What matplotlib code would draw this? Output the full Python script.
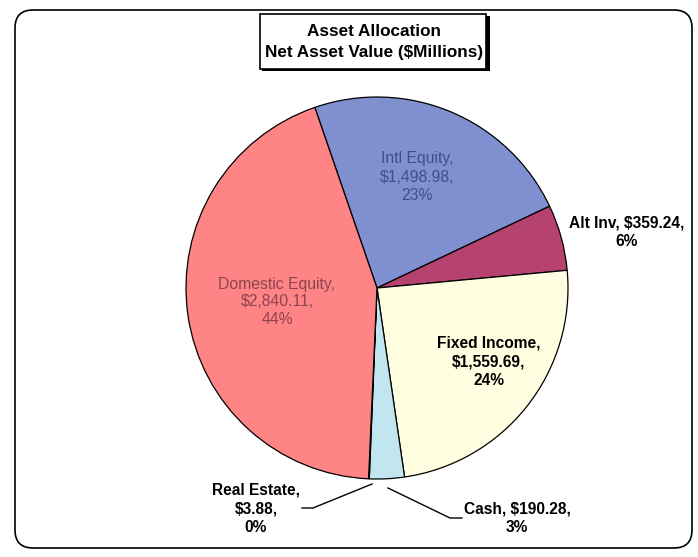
import matplotlib
matplotlib.use("Agg")
import matplotlib.pyplot as plt
from matplotlib.patches import FancyBboxPatch, Rectangle

plt.rcParams['font.family'] = ['Liberation Sans', 'DejaVu Sans']

# Net asset value by asset class ($ millions), in drawing order (clockwise)
labels = ['Intl Equity', 'Alt Inv', 'Fixed Income', 'Cash', 'Real Estate', 'Domestic Equity']
values = [1498.98, 359.24, 1559.69, 190.28, 3.88, 2840.11]
colors = ['#7f8fcf', '#b6426f', '#fffee0', '#c2e6f0', '#ffffff', '#ff8486']

W, H = 698, 557
fig = plt.figure(figsize=(W / 100, H / 100), dpi=100)
ax = fig.add_axes([0, 0, 1, 1])

def Y(y):
    # pixel rows counted from the top
    return H - y

# outer rounded frame
frame = FancyBboxPatch((15, Y(548)), 677, 538, boxstyle='round,pad=0,rounding_size=18',
                       fc='white', ec='black', lw=1.2, zorder=0)
ax.add_patch(frame)

center = (377, Y(288))
radius = 191
wedges, _ = ax.pie(values, colors=colors, startangle=109, counterclock=False,
                   center=center, radius=radius, frame=True,
                   wedgeprops=dict(edgecolor='black', linewidth=0.9))
ax.set_xlim(0, W)
ax.set_ylim(0, H)
ax.set_aspect('auto')
ax.axis('off')

total = sum(values)
pct = [round(v / total * 100) for v in values]

def lab(i):
    return f"{labels[i]},\n${values[i]:,.2f},\n{pct[i]}%"

# labels sitting inside the big wedges
ax.text(417, Y(177), lab(0), ha='center', va='center', fontsize=11.3,
        color='#2c3468', alpha=0.7, linespacing=1.3)
ax.text(277, Y(302), lab(5), ha='center', va='center', fontsize=11.3,
        color='#5a2a38', alpha=0.7, linespacing=1.25)
ax.text(489, Y(362), lab(2), ha='center', va='center', fontsize=11.2,
        fontweight='bold', linespacing=1.3)

# outside labels
ax.text(627, Y(232), f"{labels[1]}, ${values[1]:,.2f},\n{pct[1]}%", ha='center',
        va='center', fontsize=11.2, fontweight='bold', linespacing=1.3)
ax.text(256, Y(509), lab(4), ha='center', va='center', fontsize=11.2,
        fontweight='bold', linespacing=1.3)
ax.text(517, Y(518), f"{labels[3]}, ${values[3]:,.2f},\n{pct[3]}%", ha='center',
        va='center', fontsize=11.2, fontweight='bold', linespacing=1.3)

# leader lines
ax.plot([302, 313, 372], [Y(508), Y(508), Y(484)], color='black', lw=1)
ax.plot([388, 450, 462], [Y(488), Y(518), Y(518)], color='black', lw=1)

# title box with shadow
ax.add_patch(Rectangle((262, Y(71)), 228, 55, fc='black', ec='none', zorder=3))
ax.add_patch(Rectangle((260, Y(69)), 226, 55, fc='white', ec='black', lw=1.2, zorder=4))
ax.text(374, Y(32), 'Asset Allocation', ha='center', va='center', fontsize=12.3,
        fontweight='bold', zorder=5)
ax.text(374, Y(53), 'Net Asset Value ($Millions)', ha='center', va='center',
        fontsize=12.3, fontweight='bold', zorder=5)

fig.savefig('out.png', dpi=100)
